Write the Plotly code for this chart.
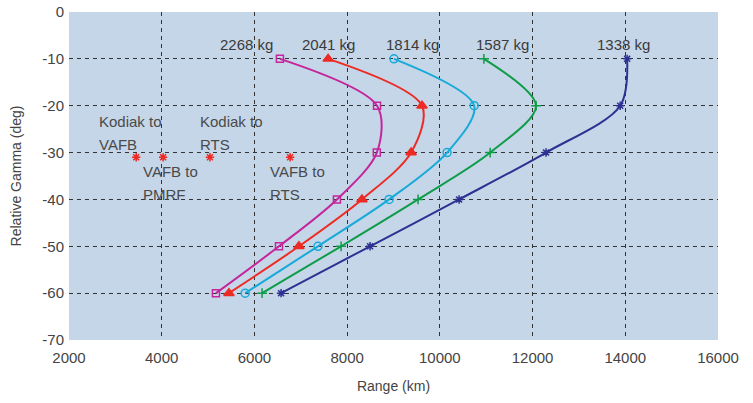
import plotly.graph_objects as go

gamma = [-10, -20, -30, -40, -50, -60]
range_2268 = [6550, 8645, 8640, 7780, 6530, 5170]
range_2041 = [7590, 9615, 9380, 8320, 6960, 5450]
range_1814 = [9010, 10740, 10155, 8905, 7370, 5800]
range_1587 = [10950, 12075, 11085, 9530, 7870, 6165]
range_1338 = [14040, 13890, 12290, 10415, 8495, 6575]

series_names = ["2268 kg", "2041 kg", "1814 kg", "1587 kg", "1338 kg"]
series_ranges = [range_2268, range_2041, range_1814, range_1587, range_1338]
colors = ["#c4259b", "#ee2a24", "#17aad8", "#0f9c48", "#2e3192"]
symbols = ["square-open", "triangle-up", "circle-open", "cross-thin-open", "asterisk-open"]
marker_sizes = [7, 9, 8, 7, 7]
label_xshift = [-33, 0, 19, 19, -4]

site_ranges = [3450, 4030, 5040, 6770]
site_gamma = [-31, -31, -31, -31]
site_label_lines = [["Kodiak to", "VAFB"], ["VAFB to", "PMRF"], ["Kodiak to", "RTS"], ["VAFB to", "RTS"]]
site_label_pos = [(2600, -23.4), (3550, -34.1), (4780, -23.4), (6290, -34.1)]

x_ticks = [2000, 4000, 6000, 8000, 10000, 12000, 14000, 16000]
x_tick_labels = ["2000", "4000", "6000", "8000", "10000", "12000", "14000", "16000"]
y_ticks = [0, -10, -20, -30, -40, -50, -60, -70]
y_tick_labels = ["0", "-10", "-20", "-30", "-40", "-50", "-60", "-70"]

fig = go.Figure()
for name, xs, c, s, ms, dx in zip(series_names, series_ranges, colors, symbols, marker_sizes, label_xshift):
    fig.add_trace(go.Scatter(
        x=xs, y=gamma, mode="lines+markers", name=name,
        line=dict(color=c, width=2, shape="spline", smoothing=0.9),
        marker=dict(symbol=s, size=ms, color=c, line=dict(color=c, width=1.5)),
        showlegend=False))
    fig.add_annotation(x=xs[0], y=gamma[0], text=name, showarrow=False,
                       yshift=14, xshift=dx,
                       font=dict(size=15, color="#3a3a3a"))

fig.add_trace(go.Scatter(
    x=site_ranges, y=site_gamma, mode="markers",
    marker=dict(symbol="asterisk-open", size=7, color="#ee2a24", line=dict(color="#ee2a24", width=1.5)),
    showlegend=False))

for lines, (lx, ly) in zip(site_label_lines, site_label_pos):
    for i, t in enumerate(lines):
        fig.add_annotation(x=lx, y=ly, yshift=-23 * i, text=t, showarrow=False,
                           xanchor="left", align="left",
                           font=dict(size=15, color="#4a4a4a"))

grid = dict(showgrid=True, gridcolor="#333", gridwidth=1, griddash="4px,4px", zeroline=False,
            showline=False, ticks="", tickfont=dict(size=15, color="#444"), automargin=False,
            ticklabeloverflow="allow")

fig.update_layout(
    width=753, height=403,
    margin=dict(l=69, r=35, t=12, b=63),
    paper_bgcolor="white", plot_bgcolor="#c5d6e8",
    font=dict(family="Liberation Sans, Arial, sans-serif", color="#444"),
    xaxis=dict(range=[2000, 16000], tickvals=x_ticks, ticktext=x_tick_labels,
               ticklabelstandoff=7,
               title=dict(text="Range (km)", font=dict(size=14), standoff=16), **grid),
    yaxis=dict(range=[-70, 0], tickvals=y_ticks, ticktext=y_tick_labels,
               ticklabelstandoff=4,
               title=dict(text="Relative Gamma (deg)", font=dict(size=14), standoff=17), **grid),
)

fig.write_html("out.html", config={"displayModeBar": False},
               post_script="document.body.style.margin='0';")
